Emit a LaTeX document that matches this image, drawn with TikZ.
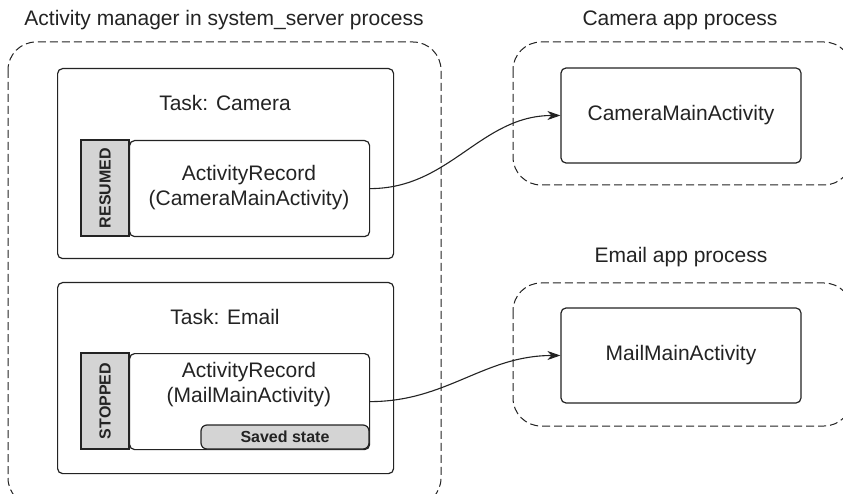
\documentclass[tikz,border=0pt]{standalone}
\usepackage{fontspec}
\setmainfont{Liberation Sans}
\usetikzlibrary{positioning, arrows.meta}
\definecolor{InkGray}{RGB}{35, 35, 35}
\definecolor{StateGray}{RGB}{212, 212, 212}

\begin{document}
\begin{tikzpicture}[x=1pt, y=-1pt,
    every node/.style={font=\fontsize{21}{25}\selectfont, text=InkGray},
    process/.style={draw=InkGray, line width=1pt, dash pattern=on 8pt off 4pt, rounded corners=28pt},
    taskbox/.style={draw=InkGray, line width=1.2pt, rounded corners=5pt, minimum width=336pt, minimum height=190pt, anchor=north west},
    record/.style={draw=InkGray, line width=1.2pt, rounded corners=5pt, minimum width=240pt, minimum height=96pt, anchor=north west},
    statetab/.style={draw=InkGray, line width=1.2pt, fill=StateGray, rotate=90, minimum width=96pt, minimum height=48pt, font=\fontsize{16}{19}\selectfont\bfseries},
    saved/.style={draw=InkGray, line width=1.2pt, fill=StateGray, rounded corners=6pt, minimum width=168pt, minimum height=24pt, font=\fontsize{16}{19}\selectfont\bfseries},
    activity/.style={draw=InkGray, line width=1.2pt, rounded corners=5pt, minimum width=240pt, minimum height=95pt},
    link/.style={draw=InkGray, line width=1.1pt, -{Stealth[length=13pt, width=9pt, inset=4pt]}}
  ]
    \useasboundingbox (0,0) rectangle (843,494);
    \fill[white] (0,0) rectangle (843,494);
    \clip (0,0) rectangle (843,494);

    % Process boundaries
    \draw[process] (8,42) rectangle (441,506);
    \draw[process] (513,42) rectangle (852,185);
    \draw[process] (513,283) rectangle (852,426);

    \node (amtitle) at (224,20) {Activity manager in system\_server process};
    \node (camtitle) at (680,20) {Camera app process};
    \node (mailtitle) at (681,257) {Email app process};

    % Task: Camera
    \node[taskbox] (camtask) at (57,68) {};
    \node (camtasklabel) at (225,103) {Task: Camera};
    \node[record] (camrec) at (129,140) {};
    \node[align=center] (camrectext) at (249,188) {ActivityRecord\\(CameraMainActivity)};
    \node[statetab] (camstate) at (105,188) {RESUMED};

    % Task: Email
    \node[taskbox, minimum height=191pt] (mailtask) at (57,282) {};
    \node (mailtasklabel) at (225,317) {Task: Email};
    \node[record] (mailrec) at (129,353) {};
    \node[align=center] (mailrectext) at (249,385) {ActivityRecord\\(MailMainActivity)};
    \node[statetab] (mailstate) at (105,401) {STOPPED};
    \node[saved] (mailsaved) at (285,437) {Saved state};

    % App activities
    \node[activity] (cammain) at (681,115.5) {CameraMainActivity};
    \node[activity] (mailmain) at (681,355.5) {MailMainActivity};

    \draw[link] (camrec.east) to[out=0, in=180] (cammain.west);
    \draw[link] (mailrec.east) to[out=0, in=180] (mailmain.west);
  \end{tikzpicture}
\end{document}
